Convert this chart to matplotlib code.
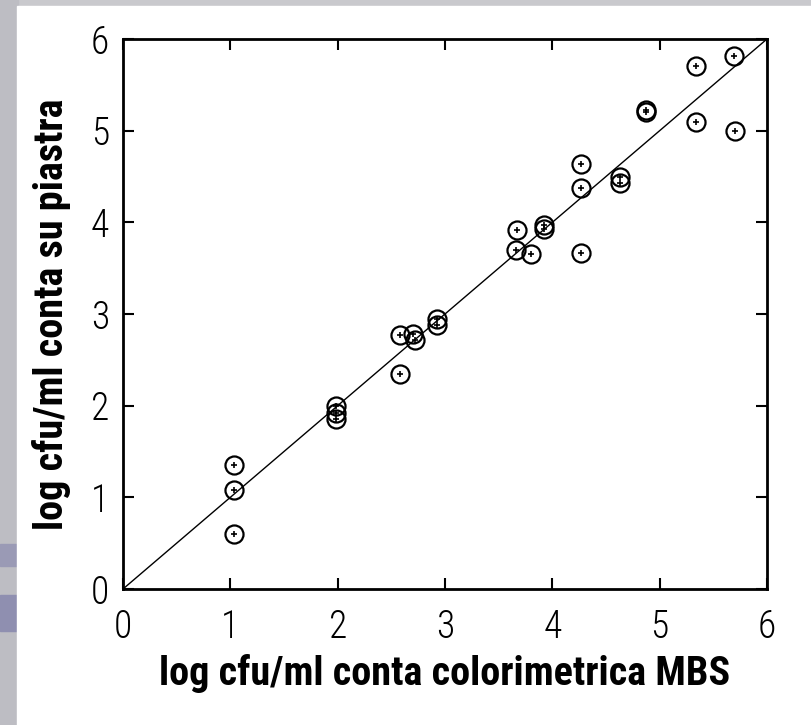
import matplotlib.pyplot as plt
from matplotlib.patches import Rectangle

# log cfu/ml: colorimetric MBS count (x) vs plate count (y)
conta_mbs = [1.03, 1.03, 1.03, 1.98, 1.98, 1.98, 2.58, 2.58, 2.70, 2.72,
             2.93, 2.93, 3.67, 3.66, 3.80, 3.92, 3.92, 4.27, 4.27, 4.27,
             4.63, 4.63, 4.87, 4.87, 5.34, 5.34, 5.69, 5.70]
conta_piastra = [1.35, 1.08, 0.60, 2.00, 1.92, 1.85, 2.77, 2.35, 2.78, 2.72,
                 2.95, 2.88, 3.92, 3.70, 3.65, 3.97, 3.93, 4.64, 4.38, 3.67,
                 4.49, 4.43, 5.23, 5.20, 5.71, 5.09, 5.82, 5.00]
bisettrice = [0, 6]
ticks = [0, 1, 2, 3, 4, 5, 6]

fig = plt.figure(figsize=(8.11, 7.25), dpi=100, facecolor="#c9c9cd")

# sfondo: striscia grigia a sinistra/in alto, pannello bianco
sfondo = [
    ((0, 0), 0.022, 1, "#bdbdc3"),
    ((0, 0.13), 0.022, 0.05, "#8f8fb0"),
    ((0, 0.22), 0.022, 0.03, "#9a9ab5"),
    ((0.021, 0), 1, 1 - 6 / 725, "white"),
]
for xy, w, h, c in sfondo:
    fig.patches.append(Rectangle(xy, w, h, transform=fig.transFigure,
                                 color=c, zorder=-5))

ax = fig.add_axes([123 / 811, 1 - 589 / 725, 644 / 811, 550 / 725])
ax.set_zorder(2)

ax.plot(bisettrice, bisettrice, color="black", lw=1.0)
ax.plot(conta_mbs, conta_piastra, "o", ms=13, mfc="none", mec="black", mew=1.6)
ax.plot(conta_mbs, conta_piastra, "+", ms=5, color="black", mew=1.2)

ax.set_xlim(0, 6)
ax.set_ylim(0, 6)
ax.set_xticks(ticks)
ax.set_yticks(ticks)

font_nar = ["Roboto Condensed", "DejaVu Sans"]
ax.set_xticklabels([str(t) for t in ticks], family=font_nar, fontsize=27, fontweight=300)
ax.set_yticklabels([str(t) for t in ticks], family=font_nar, fontsize=27, fontweight=300)
ax.tick_params(direction="in", length=8, width=1.5, top=True, right=True)
ax.tick_params(axis="x", pad=14)
ax.tick_params(axis="y", pad=10)
for s in ax.spines.values():
    s.set_linewidth(2)

ax.set_xlabel("log cfu/ml conta colorimetrica MBS", family=font_nar,
              fontsize=29, fontweight="bold", labelpad=6)
ax.set_ylabel("log cfu/ml conta su piastra", family=font_nar,
              fontsize=29, fontweight="bold", labelpad=14)

plt.savefig("out.png", dpi=100, facecolor=fig.get_facecolor())
plt.close()
